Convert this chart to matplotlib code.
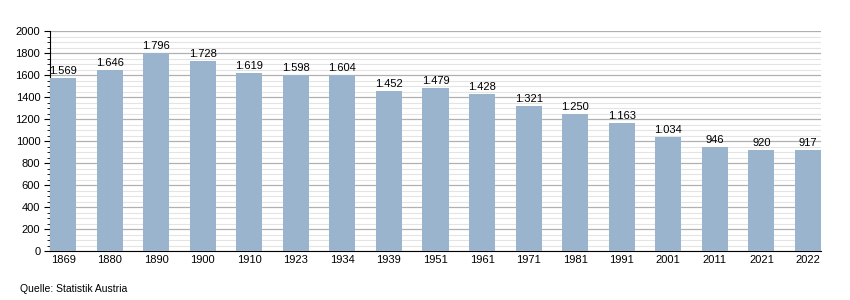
import matplotlib
matplotlib.use("Agg")
import matplotlib.pyplot as plt
from matplotlib.ticker import MultipleLocator

years = ["1869", "1880", "1890", "1900", "1910", "1923", "1934", "1939", "1951",
         "1961", "1971", "1981", "1991", "2001", "2011", "2021", "2022"]
population = [1569, 1646, 1796, 1728, 1619, 1598, 1604, 1452, 1479,
              1428, 1321, 1250, 1163, 1034, 946, 920, 917]

plt.rcParams['font.family'] = ['Liberation Sans', 'DejaVu Sans']
fig = plt.figure(figsize=(8.5, 3.0), dpi=100)
ax = fig.add_axes([50/850, 1 - 251/300, 771/850, 220/300])

x = list(range(len(years)))
ax.bar(x, population, width=0.56, color="#9bb4cd", zorder=3)
for xi, v in zip(x, population):
    label = f"{v:,}".replace(",", ".")
    ax.text(xi, v + 18, label, ha="center", va="bottom", fontsize=8, zorder=4)

ax.set_xlim(-0.28, len(years) - 1 + 0.28)
ax.set_ylim(0, 2000)
ax.yaxis.set_major_locator(MultipleLocator(200))
ax.yaxis.set_minor_locator(MultipleLocator(50))
ax.grid(axis="y", which="major", color="#b0b0b0", linewidth=0.9, zorder=0)
ax.grid(axis="y", which="minor", color="#e4e4e4", linewidth=0.8, zorder=0)
ax.set_xticks(x)
ax.set_xticklabels(years, fontsize=8)
ax.tick_params(axis="x", length=0, pad=3)
ax.tick_params(axis="y", which="major", length=4, width=0.8, labelsize=8, pad=3)
ax.tick_params(axis="y", which="minor", length=2, width=0.6)
for s in ["top", "right"]:
    ax.spines[s].set_visible(False)
ax.spines["left"].set_linewidth(0.8)
ax.spines["bottom"].set_linewidth(0.8)

fig.text(20/850, 1 - 289/300, "Quelle: Statistik Austria", fontsize=7.5, va="center")

fig.savefig("out.png", dpi=100)
